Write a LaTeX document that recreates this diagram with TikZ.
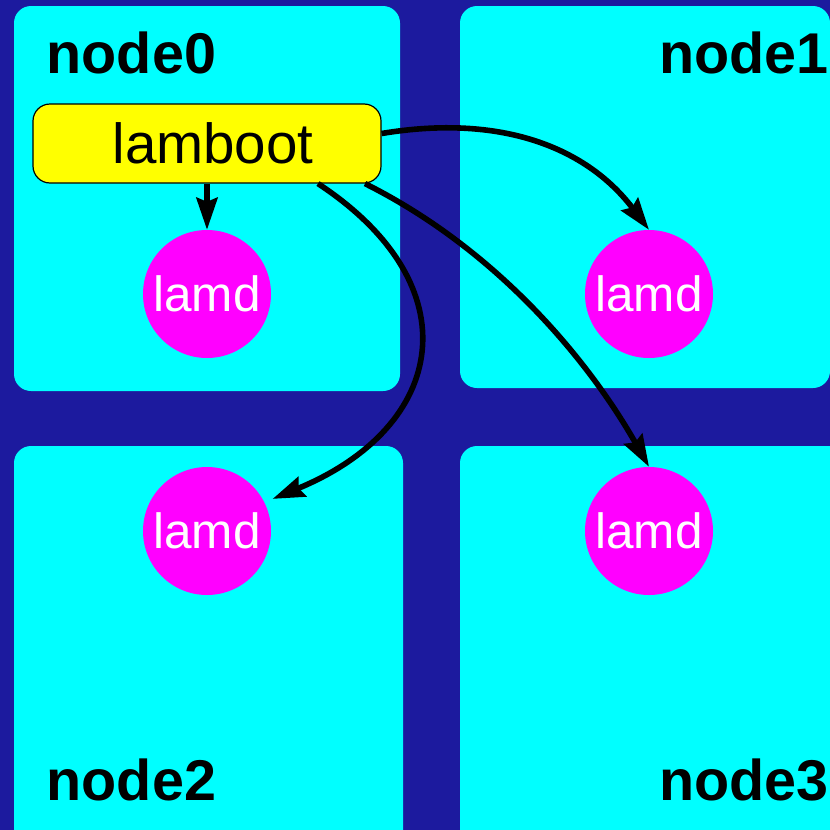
\documentclass[tikz,border=0pt]{standalone}
\usepackage{fontspec}
\setmainfont{Liberation Sans}
\usetikzlibrary{arrows.meta}
\definecolor{bgblue}{RGB}{28,26,158}
\definecolor{hostcyan}{RGB}{0,255,255}
\definecolor{daemonpink}{RGB}{255,0,255}
\definecolor{bootyellow}{RGB}{255,255,0}
\begin{document}
\begin{tikzpicture}[x=1pt,y=-1pt,
  hostbox/.style={fill=hostcyan, rounded corners=17pt},
  hostlabel/.style={font=\fontsize{57.5}{60}\selectfont\bfseries, inner sep=0pt},
  bootbox/.style={draw=black, line width=1.2pt, fill=bootyellow, rounded corners=17pt,
    minimum width=348pt, minimum height=79pt, inner sep=0pt,
    font=\fontsize{56.5}{60}\selectfont},
  daemon/.style={circle, fill=daemonpink, minimum size=128pt, inner sep=0pt,
    text=white, font=\fontsize{49.5}{52}\selectfont},
  conn/.style={line width=5.6pt, -{Stealth[length=32pt,width=21pt,inset=4pt]}}]
\useasboundingbox (0,0) rectangle (830,830);
\clip (0,0) rectangle (830,830);
\fill[bgblue] (0,0) rectangle (830,830);

% the four hosts
\path[hostbox] (14,6) rectangle (400,391);
\path[hostbox] (460,6) rectangle (830,388);
\path[hostbox] (14,446) rectangle (403,848);
\path[hostbox] (460,446) rectangle (848,848);

\node[hostlabel, anchor=base west] (h0) at (46.5,73) {node0};
\node[hostlabel, anchor=base west] (h1) at (659,73) {node1};
\node[hostlabel, anchor=base west] (h2) at (46.5,800) {node2};
\node[hostlabel, anchor=base west] (h3) at (659,800) {node3};

% boot process and the daemons it starts
\node[bootbox] (lb) at (207,143.5) {\hspace*{12pt}\raisebox{-3.5pt}{lamboot}};
\node[daemon] (l0) at (207,294) {lamd};
\node[daemon] (l1) at (649,294) {lamd};
\node[daemon] (l2) at (207,531) {lamd};
\node[daemon] (l3) at (649,531) {lamd};

\draw[conn] (lb.south) -- (l0.north);
\draw[conn] ([yshift=10pt]lb.east) .. controls +(120,-20) and +(-62,-82) .. (l1.north);
\draw[conn] ([xshift=111pt]lb.south) .. controls +(155,102) and +(175,-72) .. ([xshift=10pt]l2.30);
\draw[conn] ([xshift=158pt]lb.south) .. controls +(134,67) and +(-59,-104) .. (l3.north);
\end{tikzpicture}
\end{document}
